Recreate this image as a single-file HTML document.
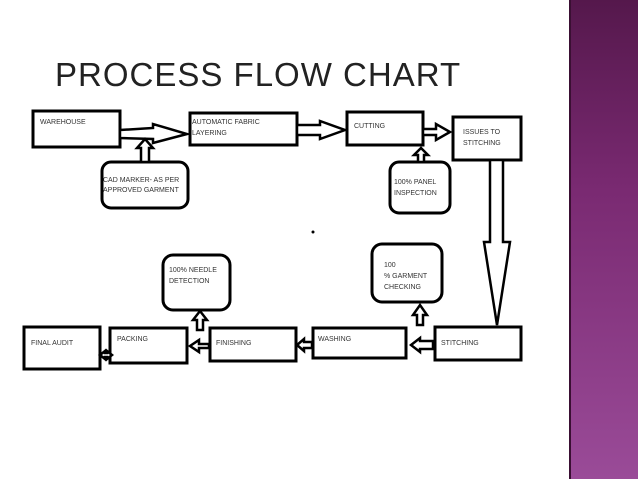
<!DOCTYPE html>
<html><head><style>
body{margin:0;width:638px;height:479px;overflow:hidden;background:#fff;position:relative;font-family:"Liberation Sans",sans-serif}
.band{position:absolute;left:569px;top:0;width:69px;height:479px;background:linear-gradient(#55184c,#7a2a72 40%,#9a4b98);border-left:2px solid #3a0f33}
.t{position:absolute;left:55px;top:56px;font-size:33px;color:#222;letter-spacing:1px}
</style></head><body>
<div class="t">PROCESS FLOW CHART</div>
<svg width="638" height="479" style="position:absolute;left:0;top:0" font-family="Liberation Sans, sans-serif" font-size="7" fill="#333">
<g fill="none" stroke="#000" stroke-width="3">
<rect x="33" y="111" width="87" height="36"/>
<rect x="190" y="113" width="107" height="32"/>
<rect x="347" y="112" width="76" height="33"/>
<rect x="453" y="117" width="68" height="43"/>
<rect x="102" y="162" width="86" height="46" rx="9"/>
<rect x="390" y="162" width="60" height="51" rx="9"/>
<rect x="372" y="244" width="70" height="58" rx="10"/>
<rect x="163" y="255" width="67" height="55" rx="10"/>
<rect x="435" y="327" width="86" height="33"/>
<rect x="313" y="328" width="93" height="30"/>
<rect x="210" y="328" width="86" height="33"/>
<rect x="110" y="328" width="77" height="35"/>
<rect x="24" y="327" width="76" height="42"/>
</g>
<g fill="#fff" stroke="#000" stroke-width="2.5" stroke-linejoin="miter">
<polygon points="120,130 153,128 153,124 187,134 153,143 153,139 120,138"/>
<polygon points="297,125 320,125 320,121 345,130 320,139 320,135 297,135"/>
<polygon points="423,129 436,129 436,124 450,132 436,140 436,135 423,135"/>
<polygon points="141,162 141,148 137,148 145,139 153,148 149,148 149,162"/>
<polygon points="418,162 418,155 414,155 421,148 428,155 424,155 424,162"/>
<polygon points="490,160 503,160 503,242 510,242 497,325 484,242 490,242"/>
<polygon points="417,325 417,315 413,315 420,305 427,315 423,315 423,325"/>
<polygon points="433,341 420,341 420,338 411,345 420,352 420,349 433,349"/>
<polygon points="312,342 304,342 304,339 297,345 304,351 304,348 312,348"/>
<polygon points="197,330 197,320 193,320 200,311 207,320 203,320 203,330"/>
<polygon points="209,344 199,344 199,340 190,346 199,352 199,348 209,348"/>
<polygon points="100,355 105,351 105,353 107,353 107,351 112,355 107,359 107,357 105,357 105,359"/>
</g>
<text x="40" y="124">WAREHOUSE</text>
<text x="192" y="124">AUTOMATIC FABRIC</text><text x="192" y="135">LAYERING</text>
<text x="354" y="128">CUTTING</text>
<text x="463" y="134">ISSUES TO</text><text x="463" y="145">STITCHING</text>
<text x="103" y="182">CAD MARKER- AS PER</text><text x="103" y="192">APPROVED GARMENT</text>
<text x="394" y="184">100% PANEL</text><text x="394" y="195">INSPECTION</text>
<text x="384" y="267">100</text><text x="384" y="278">% GARMENT</text><text x="384" y="289">CHECKING</text>
<text x="169" y="272">100% NEEDLE</text><text x="169" y="283">DETECTION</text>
<text x="441" y="345">STITCHING</text>
<text x="318" y="341">WASHING</text>
<text x="216" y="345">FINISHING</text>
<text x="117" y="341">PACKING</text>
<text x="31" y="345">FINAL AUDIT</text>
<circle cx="313" cy="232" r="1.5" fill="#000"/>
</svg>
<div class="band"></div>
</body></html>
